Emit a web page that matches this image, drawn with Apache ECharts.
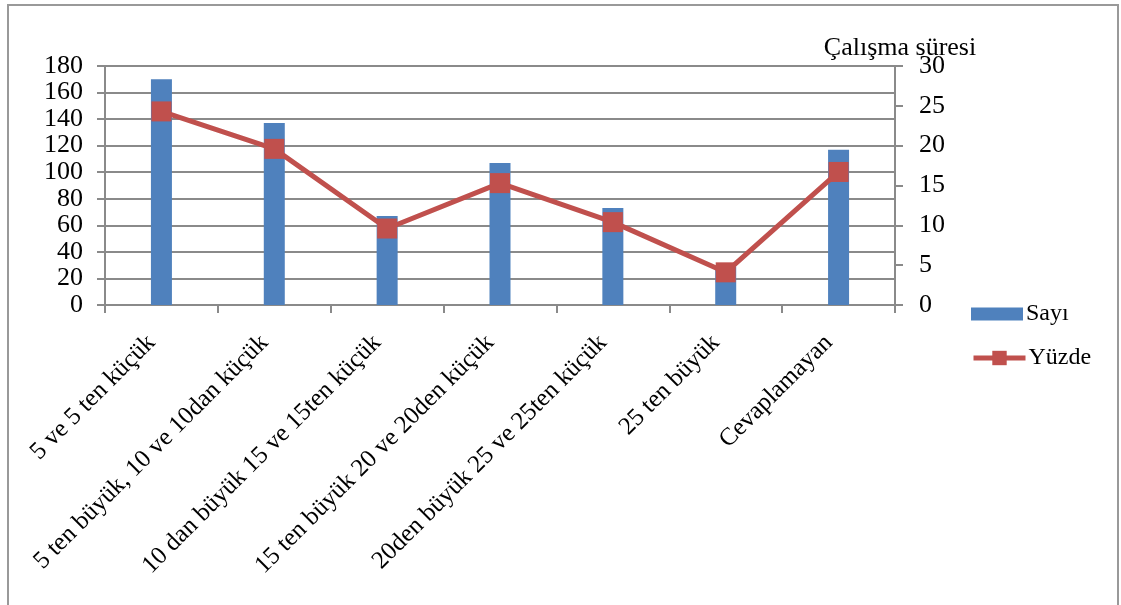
<!DOCTYPE html>
<html>
<head>
<meta charset="utf-8">
<script src="https://cdn.jsdelivr.net/npm/echarts@6/dist/echarts.min.js"></script>
<style>
  html, body { margin: 0; padding: 0; background: #fff; }
  #chart { width: 1121px; height: 605px; }
</style>
</head>
<body>
<div id="chart"></div>
<script>
// Çalışma süresi (yıl) gruplarına göre sayı ve yüzde dağılımı
const categories = [
  '5 ve 5 ten küçük',
  '5 ten büyük, 10 ve 10dan küçük',
  '10 dan büyük 15 ve 15ten küçük',
  '15 ten büyük 20 ve 20den küçük',
  '20den büyük 25 ve 25ten küçük',
  '25 ten büyük',
  'Cevaplamayan'
];
const sayi = [170, 137, 67, 107, 73, 29, 117];
const yuzde = [24.3, 19.6, 9.6, 15.3, 10.4, 4.1, 16.7];

const serif = 'Liberation Serif, Times New Roman, serif';
const gridColor = '#8a8a8a';
const barColor = '#4F81BD';
const lineColor = '#C0504D';
const legendText = { fontFamily: serif, fontSize: 24, color: '#000', padding: [0, 0, 0, -2] };

const chart = echarts.init(document.getElementById('chart'));
chart.setOption({
  animation: false,
  textStyle: { fontFamily: serif, color: '#000' },
  graphic: [{
    type: 'rect',
    shape: { x: 8, y: 5, width: 1110, height: 620 },
    style: { fill: 'none', stroke: '#999', lineWidth: 2 }
  }],
  grid: { left: 105, right: 226, top: 66, bottom: 300, containLabel: false },
  legend: [
    {
      left: 966,
      top: 297,
      itemWidth: 52,
      itemHeight: 13,
      textStyle: legendText,
      data: [{ name: 'Sayı', icon: 'rect', itemStyle: { color: barColor } }]
    },
    {
      left: 966,
      top: 341,
      itemWidth: 52,
      itemHeight: 18,
      textStyle: legendText,
      data: [{ name: 'Yüzde', lineStyle: { color: lineColor, width: 5 }, itemStyle: { color: lineColor } }]
    }
  ],
  xAxis: {
    type: 'category',
    data: categories,
    axisLine: { lineStyle: { color: gridColor, width: 2 } },
    axisTick: { show: true, length: 8, lineStyle: { color: gridColor, width: 2 } },
    axisLabel: {
      rotate: 45,
      interval: 0,
      margin: 24,
      padding: [0, 14, 0, 0],
      fontFamily: serif,
      fontSize: 25,
      color: '#000'
    }
  },
  yAxis: [
    {
      type: 'value',
      min: 0, max: 180, interval: 20,
      axisLine: { show: true, lineStyle: { color: gridColor, width: 2 } },
      axisTick: { show: true, length: 8, lineStyle: { color: gridColor, width: 2 } },
      splitLine: { show: true, lineStyle: { color: gridColor, width: 2 } },
      axisLabel: { fontFamily: serif, fontSize: 26, color: '#000', margin: 22 }
    },
    {
      type: 'value',
      min: 0, max: 30, interval: 5,
      name: 'Çalışma süresi',
      nameLocation: 'end',
      nameGap: 18,
      nameMoveOverlap: false,
      nameTextStyle: {
        fontFamily: serif, fontSize: 26, color: '#000',
        align: 'center', verticalAlign: 'middle', padding: [0, 0, 0, 10]
      },
      axisLine: { show: true, lineStyle: { color: gridColor, width: 2 } },
      axisTick: { show: true, length: 8, lineStyle: { color: gridColor, width: 2 } },
      splitLine: { show: false },
      axisLabel: { fontFamily: serif, fontSize: 26, color: '#000', margin: 24 }
    }
  ],
  series: [
    {
      name: 'Sayı',
      type: 'bar',
      data: sayi,
      yAxisIndex: 0,
      barWidth: 21,
      itemStyle: { color: barColor }
    },
    {
      name: 'Yüzde',
      type: 'line',
      data: yuzde,
      yAxisIndex: 1,
      symbol: 'rect',
      symbolSize: 20,
      lineStyle: { color: lineColor, width: 5 },
      itemStyle: { color: lineColor }
    }
  ]
});
</script>
</body>
</html>
